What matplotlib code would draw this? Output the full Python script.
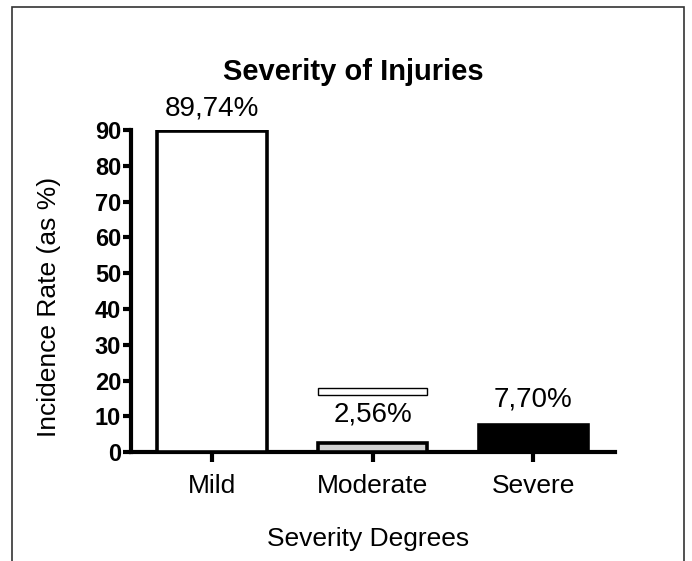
import numpy as np
import matplotlib.pyplot as plt
from matplotlib.patches import Rectangle

plt.rcParams['font.family'] = ['Liberation Sans', 'DejaVu Sans']

# dados
categorias = ["Mild", "Moderate", "Severe"]
valores = [89.74, 2.56, 7.70]
rotulos = ["89,74%", "2,56%", "7,70%"]
cores = ["white", "#d3d3d3", "black"]
yticks = np.arange(0, 100, 10)

fig = plt.figure(figsize=(6.92, 5.61), dpi=100)
ax = fig.add_axes([0.189, 0.194, 0.70, 0.574])

x = np.arange(len(categorias))
ax.bar(x, valores, width=0.68, color=cores, edgecolor="black", linewidth=2.6, zorder=3)

# rotulos acima das barras
offs = [7, 11, 9]
for xi, v, r, o in zip(x, valores, rotulos, offs):
    ax.annotate(r, (xi, v), xytext=(0, o), textcoords="offset points",
                ha="center", va="bottom", fontsize=20)

# caixa branca sobrando acima de "2,56%"
ax.add_patch(Rectangle((x[1] - 0.34, 16.1), 0.68, 1.9, facecolor="white",
                       edgecolor="black", linewidth=1.0, zorder=3))

ax.set_xlim(-0.505, 2.51)
ax.set_ylim(0, 90)
ax.set_yticks(yticks)
ax.set_xticks(x)
ax.set_xticklabels(categorias, fontsize=19)
for lab in ax.get_yticklabels():
    lab.set_fontweight("bold")
    lab.set_fontsize(17)

ax.spines["top"].set_visible(False)
ax.spines["right"].set_visible(False)
ax.spines["left"].set_linewidth(3)
ax.spines["bottom"].set_linewidth(3)
ax.tick_params(axis="y", length=6, width=3, pad=1)
ax.tick_params(axis="x", length=7, width=3, pad=9)

ax.set_ylabel("Incidence Rate (as %)", fontsize=19, labelpad=24)
ax.yaxis.label.set_y(0.45)
fig.text(0.532, 0.04, "Severity Degrees", ha="center", va="center", fontsize=19)
fig.text(0.511, 0.872, "Severity of Injuries", ha="center", va="center",
         fontsize=21, fontweight="bold")

# moldura
fig.add_artist(Rectangle((12 / 692, -0.1), 672 / 692, 1.1 - 7 / 561,
                         transform=fig.transFigure, fill=False,
                         edgecolor="#333333", linewidth=1.2))

plt.savefig("out.png", dpi=100)
